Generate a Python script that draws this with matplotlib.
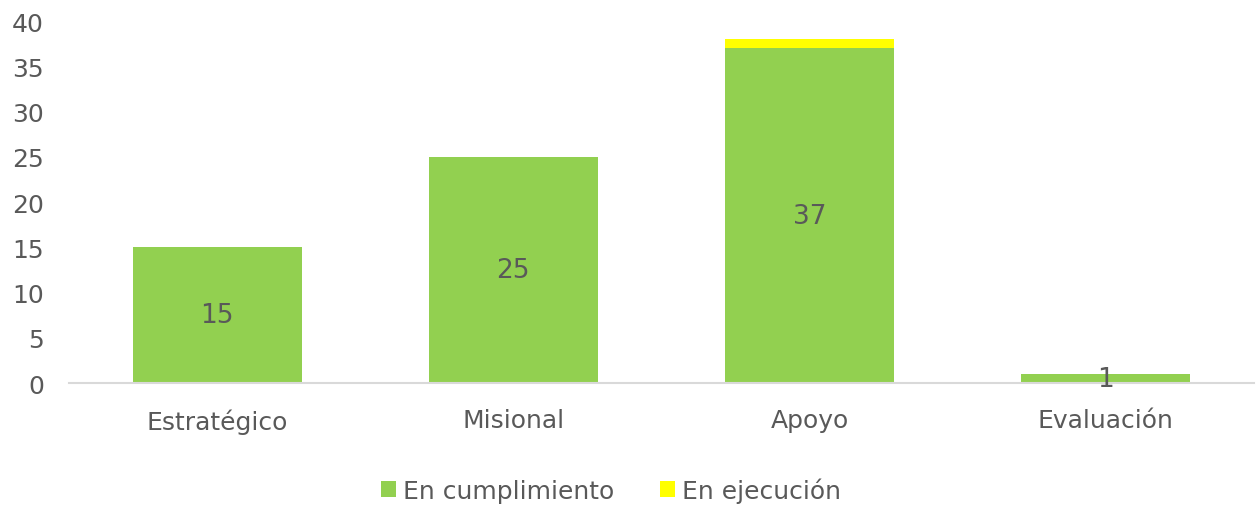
import matplotlib.pyplot as plt
import numpy as np

plt.rcParams['font.family'] = ['DejaVu Sans']

categorias = ['Estratégico', 'Misional', 'Apoyo', 'Evaluación']
cumplimiento = [15, 25, 37, 1]
ejecucion = [0, 0, 1, 0]

gris = '#595959'
x = np.arange(len(categorias))

fig = plt.figure(figsize=(12.6, 5.06), dpi=100)
ax = fig.add_axes([0.0548, 0.241, 0.9402, 0.7155])

b1 = ax.bar(x, cumplimiento, width=0.57, color='#92D050', label='En cumplimiento')
b2 = ax.bar(x, ejecucion, width=0.57, bottom=cumplimiento, color='#FFFF00', label='En ejecución')

ax.bar_label(b1, label_type='center', fontsize=19, color=gris)

ax.set_xlim(-0.5, len(categorias) - 0.5)
ax.set_ylim(0, 40)
ax.set_yticks(range(0, 41, 5))
ax.set_xticks(x)
ax.set_xticklabels(categorias)

for s in ['top', 'right', 'left']:
    ax.spines[s].set_visible(False)
ax.spines['bottom'].set_color('#D9D9D9')
ax.spines['bottom'].set_linewidth(1.5)
ax.tick_params(axis='both', length=0, labelsize=18, labelcolor=gris)
ax.tick_params(axis='x', pad=18)
ax.tick_params(axis='y', pad=18)

fig.legend(handles=[b1, b2], loc='center', bbox_to_anchor=(0.485, 0.03), ncol=2,
           frameon=False, fontsize=18, labelcolor=gris, handlelength=0.6,
           handleheight=0.6, handletextpad=0.3, columnspacing=1.8)

fig.savefig('out.png')
